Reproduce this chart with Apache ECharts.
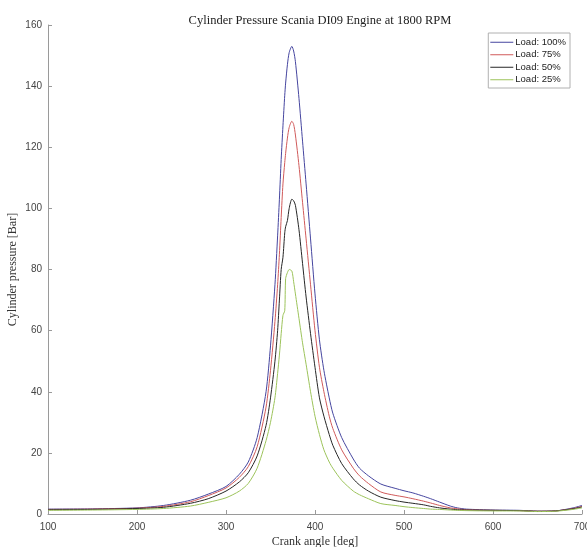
<!DOCTYPE html>
<html>
<head>
<meta charset="utf-8">
<script src="https://cdn.jsdelivr.net/npm/echarts@6/dist/echarts.min.js"></script>
<style>
  html, body { margin: 0; padding: 0; background: #fff; }
  #chart { width: 587px; height: 547px; }
</style>
</head>
<body>
<div id="chart"></div>
<script>
// crank angle samples [deg]
const angles = [100, 150, 200, 230, 260, 280, 300, 315, 325, 335, 345, 350, 355, 358, 360, 362, 364, 366, 367, 369, 371, 374, 376, 378, 382, 386, 390, 395, 400, 405, 410, 416, 420, 430, 443, 450, 460, 474, 490, 500, 510, 522, 530, 540, 552, 560, 570, 600, 630, 650, 670, 690, 700]

// cylinder pressure [Bar]
const load100 = [1.6, 1.7, 2.0, 2.8, 4.5, 6.5, 9, 13, 17, 25, 40, 55, 75, 91, 103, 116, 127, 137, 141, 147, 151, 153, 151.5, 148, 136, 122, 108, 90, 72, 57, 47, 38, 33, 25, 18, 15, 12.5, 9.8, 8.4, 7.6, 6.9, 5.8, 5.0, 3.9, 2.6, 2.0, 1.6, 1.3, 1.2, 0.9, 1.0, 2.0, 2.8]
const load75 = [1.5, 1.6, 1.9, 2.5, 4, 6, 8.5, 12, 15.5, 22, 35, 47, 63, 75, 85, 97, 108, 115, 118, 123, 126.5, 128.5, 127.5, 124, 114, 102, 90, 75, 60, 48, 40, 32, 28, 21, 15, 12.5, 10, 7.2, 6.1, 5.6, 5.0, 4.2, 3.6, 2.8, 2.0, 1.7, 1.4, 1.2, 1.1, 0.9, 1.0, 1.8, 2.5]
const load50 = [1.4, 1.5, 1.8, 2.2, 3.5, 5, 7.5, 10.5, 13.5, 19, 29, 38, 50, 60, 70, 80, 84, 92, 94, 96, 100, 103, 102.5, 101, 93, 82, 71, 59, 48, 38, 32, 26, 22.5, 16.5, 11.5, 9.5, 7.5, 5.5, 4.4, 3.9, 3.5, 3.0, 2.5, 2.0, 1.6, 1.4, 1.3, 1.2, 1.1, 0.9, 1.0, 1.7, 2.3]
const load25 = [1.2, 1.3, 1.5, 1.8, 2.6, 3.8, 5.3, 7.5, 10, 15, 24, 30, 38, 46, 52, 59, 65, 66.5, 77, 79, 80, 79.5, 76, 72, 64, 56, 49, 40, 32, 26, 21, 17, 15, 11, 7.5, 6.3, 5, 3.4, 2.8, 2.4, 2.1, 1.8, 1.6, 1.5, 1.3, 1.2, 1.1, 1.0, 1.0, 0.8, 0.9, 1.5, 2.0]

const seriesNames = ['Load: 100%', 'Load: 75%', 'Load: 50%', 'Load: 25%']
const seriesColors = ['#45459f', '#d05a5a', '#262626', '#9cc35a']
const seriesValues = [load100, load75, load50, load25]

const chart = echarts.init(document.getElementById('chart'))

const serif = "'Liberation Serif', 'DejaVu Serif', serif"
const sans = "'Liberation Sans', Arial, sans-serif"

const option = {
  animation: false,
  title: {
    text: 'Cylinder Pressure Scania DI09 Engine at 1800 RPM',
    left: 315,
    textAlign: 'center',
    top: 9,
    textStyle: { fontFamily: serif, fontSize: 12.5, fontWeight: 'normal', color: '#222' }
  },
  legend: {
    orient: 'vertical',
    right: 17,
    top: 33,
    icon: 'rect',
    itemWidth: 23,
    itemHeight: 1,
    itemGap: 0,
    padding: [3, 4, 2, 2],
    borderColor: '#b0b0b0',
    borderWidth: 1,
    backgroundColor: '#fff',
    textStyle: { fontFamily: sans, fontSize: 9.5, lineHeight: 12.5, color: '#222', padding: [0, 0, 0, -3] },
    data: seriesNames
  },
  grid: { left: 48, right: 5, top: 25, bottom: 33, outerBoundsMode: 'none' },
  xAxis: {
    type: 'value',
    min: 100,
    max: 700,
    interval: 100,
    name: 'Crank angle [deg]',
    nameLocation: 'middle',
    nameGap: 22,
    nameMoveOverlap: false,
    nameTextStyle: { fontFamily: serif, fontSize: 12, color: '#333' },
    axisLine: { lineStyle: { color: '#9a9a9a', width: 1 } },
    axisTick: { inside: true, length: 4, lineStyle: { color: '#9a9a9a' } },
    axisLabel: { fontFamily: sans, fontSize: 10, color: '#444', margin: 8 },
    splitLine: { show: false }
  },
  yAxis: {
    type: 'value',
    min: 0,
    max: 160,
    interval: 20,
    name: 'Cylinder pressure [Bar]',
    nameLocation: 'middle',
    nameGap: 29,
    nameMoveOverlap: false,
    nameTextStyle: { fontFamily: serif, fontSize: 12, color: '#333' },
    axisLine: { show: true, lineStyle: { color: '#9a9a9a', width: 1 } },
    axisTick: { show: true, inside: true, length: 4, lineStyle: { color: '#9a9a9a' } },
    axisLabel: { fontFamily: sans, fontSize: 10, color: '#444', margin: 6 },
    splitLine: { show: false }
  },
  series: seriesNames.map((name, i) => ({
    name: name,
    type: 'line',
    symbol: 'none',
    smooth: 0.25,
    color: seriesColors[i],
    lineStyle: { width: 1, color: seriesColors[i] },
    data: angles.map((a, j) => [a, seriesValues[i][j]])
  }))
}

chart.setOption(option)
</script>
</body>
</html>
